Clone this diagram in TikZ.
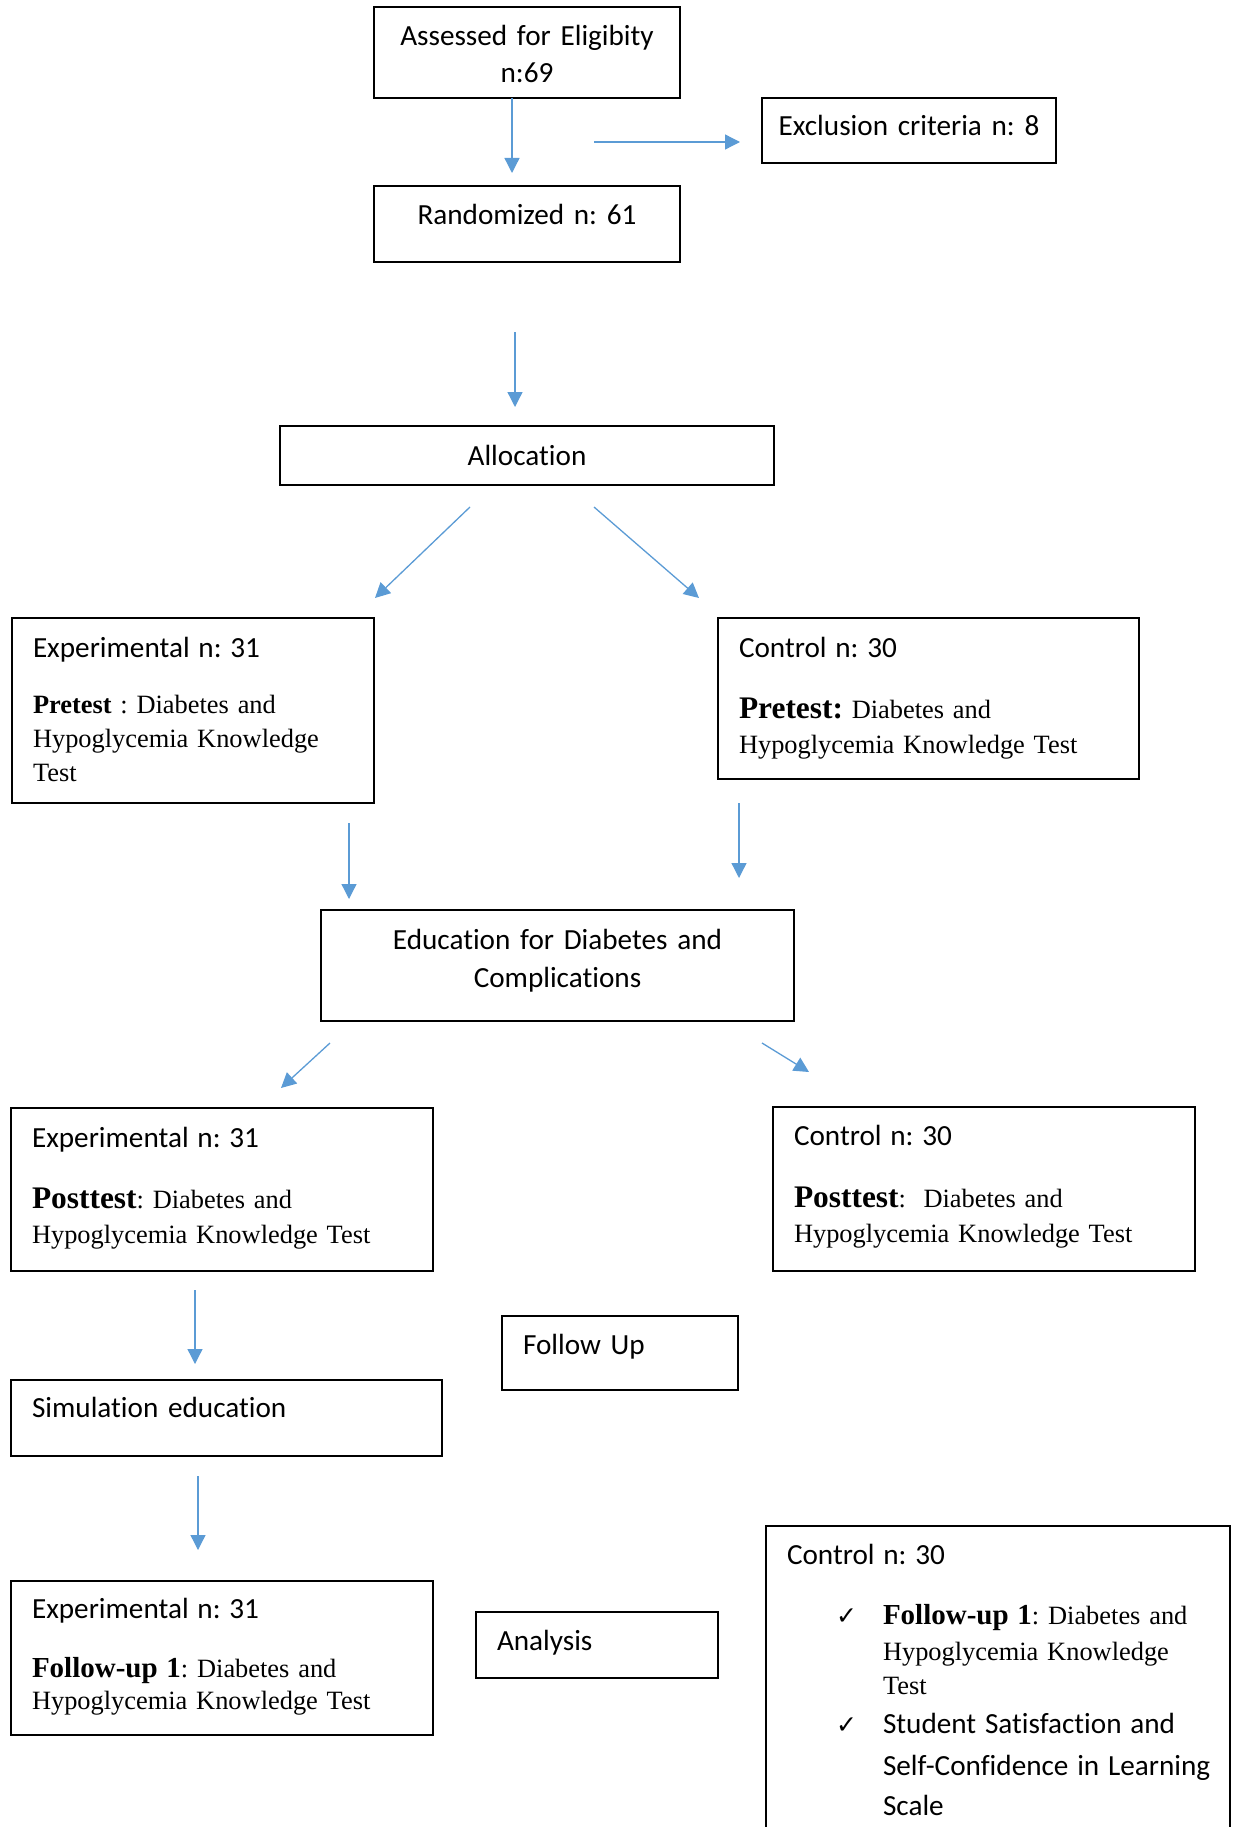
\documentclass[tikz,border=0pt]{standalone}
\usepackage{fontspec}
\setmainfont{Liberation Serif}
\newfontfamily\calibri{Carlito}[Ligatures=NoCommon]
\newfontfamily\symbolfont{DejaVu Sans}
\usepackage{tikz}
\usetikzlibrary{arrows.meta,calc}
\frenchspacing
\definecolor{flowblue}{RGB}{91,155,213}
\newcommand{\sanstext}{\calibri\fontsize{29.2}{37}\selectfont}
\newcommand{\seriftext}{\rmfamily\fontsize{26.4}{34}\selectfont}
\newcommand{\biglabel}[1]{{\fontsize{31.4}{34}\selectfont\bfseries #1}}
\newcommand{\fulabel}[1]{{\fontsize{29}{34}\selectfont\bfseries #1}}
\newcommand{\tick}{\makebox[47pt][l]{\symbolfont\fontsize{25}{25}\selectfont ✓}}

\begin{document}
\begin{tikzpicture}[x=1pt,y=-1pt,
    stage/.style={draw, line width=1.5pt, anchor=north west, inner ysep=0pt, outer sep=0pt},
    midstage/.style={stage, font=\sanstext, align=center, inner xsep=0pt},
    leftstage/.style={stage, font=\seriftext, align=left, inner xsep=21pt},
    flow/.style={draw=flowblue, line width=1.3pt, -{Triangle[length=15pt,width=15pt]}}]
  \useasboundingbox (0,0) rectangle (1234,1827);

  %enrolment
  \node[midstage, text width=306pt, text height=39pt, text depth=52pt] (assess) at (374,7)
    {Assessed for Eligibity\\n:69};
  \node[midstage, text width=294pt, text height=38pt, text depth=27pt] (excl) at (762,98)
    {Exclusion criteria n: 8};
  \node[midstage, text width=306pt, text height=39pt, text depth=37pt] (rand) at (374,186)
    {Randomized n: 61};
  \node[midstage, text width=494pt, text height=39pt, text depth=20pt] (alloc) at (280,426)
    {Allocation};

  %pretest
  \node[leftstage, text width=320pt, text height=39pt, text depth=146pt] (exppre) at (12,618)
    {{\sanstext Experimental n: 31}\\[22pt]\textbf{Pretest} : Diabetes and\\Hypoglycemia Knowledge\\Test};
  \node[leftstage, text width=379pt, text height=39pt, text depth=122pt] (ctlpre) at (718,618)
    {{\sanstext Control n: 30}\\[27pt]\biglabel{Pretest:} Diabetes and\\[1pt]Hypoglycemia Knowledge Test};

  %education
  \node[midstage, text width=473pt, text height=39pt, text depth=72pt] (edu) at (321,910)
    {Education for Diabetes and\\[1pt]Complications};

  %posttest
  \node[leftstage, text width=380pt, text height=39pt, text depth=124pt] (exppost) at (11,1108)
    {{\sanstext Experimental n: 31}\\[27pt]\biglabel{Posttest}: Diabetes and\\[1pt]Hypoglycemia Knowledge Test};
  \node[leftstage, text width=380pt, text height=38pt, text depth=126pt] (ctlpost) at (773,1107)
    {{\sanstext Control n: 30}\\[28pt]\biglabel{Posttest}:~ Diabetes and\\[1pt]Hypoglycemia Knowledge Test};

  %follow up
  \node[leftstage, font=\sanstext, text width=194pt, text height=38pt, text depth=36pt] (followup) at (502,1316)
    {Follow Up};
  \node[leftstage, font=\sanstext, text width=389pt, text height=37pt, text depth=39pt] (sim) at (11,1380)
    {Simulation education};
  \node[leftstage, text width=380pt, text height=37pt, text depth=117pt] (expfu) at (11,1581)
    {{\sanstext Experimental n: 31}\\[25pt]\fulabel{Follow-up 1}: Diabetes and\\[-2pt]Hypoglycemia Knowledge Test};
  \node[leftstage, font=\sanstext, text width=200pt, text height=38pt, text depth=28pt] (analysis) at (476,1612)
    {Analysis};
  \node[leftstage, text width=422pt, text height=38pt, text depth=320pt] (ctlfu) at (766,1526)
    {{\sanstext Control n: 30}\\[26pt]
     \hspace*{49pt}\tick\fulabel{Follow-up 1}: Diabetes and\\[2pt]
     \hspace*{96pt}Hypoglycemia Knowledge\\
     \hspace*{96pt}Test\\[5pt]
     \hspace*{49pt}\tick\mbox{\sanstext Student Satisfaction and}\\[8pt]
     \hspace*{96pt}\mbox{\sanstext Self-Confidence in Learning}\\[6pt]
     \hspace*{96pt}\mbox{\sanstext Scale}};

  %arrows
  \coordinate (exclsplit) at (594,142);
  \draw[flow, shorten >=13pt] ($(assess.south)+(-15,0)$) -- ($(rand.north)+(-15,0)$);
  \draw[flow, shorten >=22pt] (exclsplit) -- (exclsplit -| excl.west);
  \draw[flow, shorten <=70pt, shorten >=19pt] ($(rand.south)+(-12,0)$) -- ($(alloc.north)+(-12,0)$);
  \draw[flow] ($(alloc.south)+(-57,22)$) -- ($(exppre.north east)+(1,-20)$);
  \draw[flow] ($(alloc.south)+(67,22)$) -- ($(ctlpre.north west)+(-19,-20)$);
  \draw[flow, shorten <=20pt, shorten >=11pt] ($(exppre.south east)+(-25,0)$) -- ($(edu.north west)+(28,0)$);
  \draw[flow, shorten <=24pt, shorten >=32pt] ($(ctlpre.south west)+(21,0)$) -- ($(edu.north east)+(-55,0)$);
  \draw[flow] ($(edu.south west)+(9,22)$) -- ($(exppost.north east)+(-152,-20)$);
  \draw[flow] ($(edu.south east)+(-32,22)$) -- ($(ctlpost.north west)+(36,-35)$);
  \draw[flow, shorten <=19pt, shorten >=16pt] ($(exppost.south west)+(184,0)$) -- ($(sim.north west)+(184,0)$);
  \draw[flow, shorten <=20pt, shorten >=31pt] ($(sim.south west)+(187,0)$) -- ($(expfu.north west)+(187,0)$);
\end{tikzpicture}
\end{document}
